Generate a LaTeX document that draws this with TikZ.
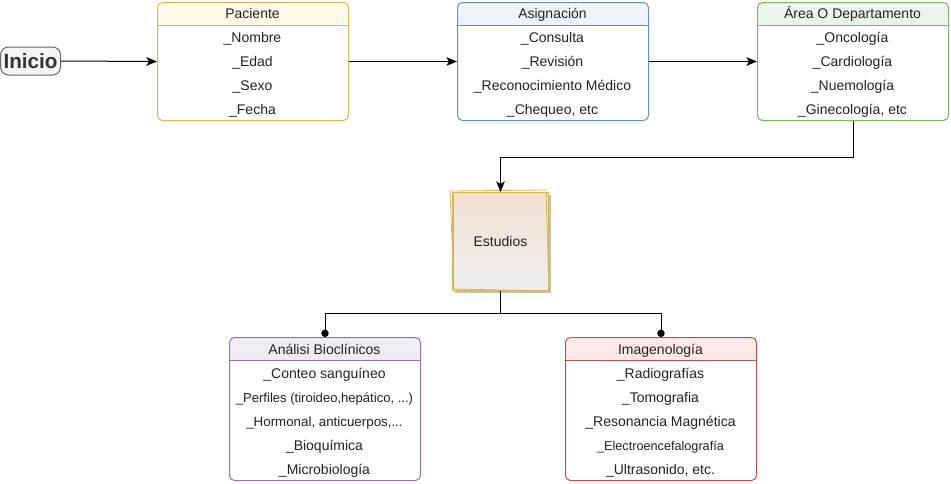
\documentclass[tikz,border=0pt]{standalone}
\usepackage{fontspec}
\setmainfont{Liberation Sans}
\usetikzlibrary{arrows.meta}
\definecolor{yelF}{HTML}{FFF2CC}\definecolor{yelS}{HTML}{D6B656}
\definecolor{bluF}{HTML}{DAE8FC}\definecolor{bluS}{HTML}{6C8EBF}
\definecolor{grnF}{HTML}{D5E8D4}\definecolor{grnS}{HTML}{82B366}
\definecolor{purF}{HTML}{E1D5E7}\definecolor{purS}{HTML}{9673A6}
\definecolor{redF}{HTML}{F8CECC}\definecolor{redS}{HTML}{B85450}
\definecolor{txt}{HTML}{222222}
\definecolor{gryF}{HTML}{F5F5F5}\definecolor{gryS}{HTML}{666666}
\definecolor{estTop}{HTML}{F2E2D3}\definecolor{estBot}{HTML}{EEEEEE}
\begin{document}
\begin{tikzpicture}[x=0.75pt,y=-0.75pt,line width=0.75pt,
  font=\fontsize{10.5pt}{12pt}\selectfont,
  tbl/.style n args={3}{draw=#2, fill=white, rounded corners=3.75pt, anchor=north west,
    inner sep=0pt, minimum width=143.25pt, minimum height=#3*0.75pt,
    path picture={
      \shade[top color=#1!40!white, bottom color=#1]
        (path picture bounding box.north west) rectangle ([yshift=-17.25pt]path picture bounding box.north east);
      \draw[#2, line width=0.75pt] ([yshift=-17.25pt]path picture bounding box.north west) -- ([yshift=-17.25pt]path picture bounding box.north east);
    }},
  row/.style={text=txt, inner sep=0pt, anchor=base, yshift=-3.75pt},
  arr/.style={draw=black, -{Stealth[length=8pt,width=6.5pt,inset=2pt]}},
  dotend/.style={draw=black, -{Circle[length=5.5pt]}}
]
\useasboundingbox (0,0) rectangle (951,483);

% Inicio
\node[draw=gryS, fill=gryF, rounded corners=6pt, minimum width=45pt, minimum height=21pt,
  inner sep=0pt, text=black!80, font=\fontsize{15.5pt}{17pt}\selectfont\bfseries] (ini) at (30.5,61) {Inicio};

% Paciente
\node[tbl={yelF}{yelS}{118}] (pac) at (157,2) {};
\node[row] (pact) at (252.5,13) {Paciente};
\node[row] (pac1) at (252.5,37) {\_Nombre};
\node[row] (pac2) at (252.5,61) {\_Edad};
\node[row] (pac3) at (252.5,85) {\_Sexo};
\node[row] (pac4) at (252.5,109) {\_Fecha};

% Asignacion
\node[tbl={bluF}{bluS}{118}] (asi) at (457,2) {};
\node[row] (asit) at (552.5,13) {Asignación};
\node[row] (asi1) at (552.5,37) {\_Consulta};
\node[row] (asi2) at (552.5,61) {\_Revisión};
\node[row] (asi3) at (552.5,85) {\_Reconocimiento Médico};
\node[row] (asi4) at (552.5,109) {\_Chequeo, etc};

% Area
\node[tbl={grnF}{grnS}{118}] (are) at (757,2) {};
\node[row] (aret) at (852.5,13) {Área O Departamento};
\node[row] (are1) at (852.5,37) {\_Oncología};
\node[row] (are2) at (852.5,61) {\_Cardiología};
\node[row] (are3) at (852.5,85) {\_Nuemología};
\node[row] (are4) at (852.5,109) {\_Ginecología, etc};

% Estudios
\fill[black!25] (455,195) rectangle (551,293);
\node[draw=yelS, top color=estTop, bottom color=estBot, minimum width=72pt, minimum height=73.5pt,
  anchor=north west, inner sep=0pt, text=txt] (est) at (452,192) {Estudios};
\draw[yelS, line width=0.6pt] (450,191) -- (546,190) -- (549,291) -- (454,289) -- cycle;
\draw[black!30, line width=0.5pt] (453,194) -- (453,289);

% Analisi
\node[tbl={purF}{purS}{143}] (ana) at (229,337) {};
\node[row] (anat) at (324.5,349) {Análisi Bioclínicos};
\node[row] (ana1) at (324.5,373) {\_Conteo sanguíneo};
\node[row, font=\fontsize{9.8pt}{11pt}\selectfont] (ana2) at (324.5,397) {\_Perfiles (tiroideo,hepático, ...)};
\node[row, font=\fontsize{10pt}{11pt}\selectfont] (ana3) at (324.5,421) {\_Hormonal, anticuerpos,...};
\node[row] (ana4) at (324.5,445) {\_Bioquímica};
\node[row] (ana5) at (324.5,469) {\_Microbiología};

% Imagenologia
\node[tbl={redF}{redS}{143}] (ima) at (565,337) {};
\node[row] (imat) at (660.5,349) {Imagenología};
\node[row] (ima1) at (660.5,373) {\_Radiografías};
\node[row] (ima2) at (660.5,397) {\_Tomografia};
\node[row] (ima3) at (660.5,421) {\_Resonancia Magnética};
\node[row, font=\fontsize{9.5pt}{11pt}\selectfont] (ima4) at (660.5,445) {\_Electroencefalografía};
\node[row] (ima5) at (660.5,469) {\_Ultrasonido, etc.};

% connectors
\draw[arr] (ini.east) -- (pac.west);
\draw[arr] (pac.east) -- (asi.west);
\draw[arr] (asi.east) -- (are.west);
\draw[arr] (are.south) -- ++(0,36) -| (est.north);
\draw[dotend] (est.south) -- ++(0,22) -| (ana.north);
\draw[dotend] (est.south) -- ++(0,22) -| (ima.north);
\end{tikzpicture}
\end{document}
